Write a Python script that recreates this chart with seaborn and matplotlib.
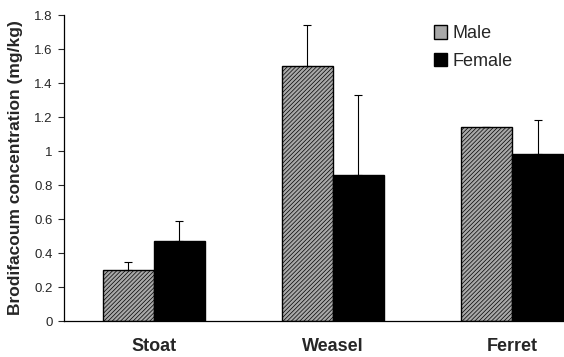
import pandas as pd
import matplotlib
matplotlib.use("Agg")
import matplotlib.pyplot as plt
import seaborn as sns

species = ["Stoat", "Weasel", "Ferret"]
male_mean = [0.30, 1.50, 1.14]
male_err = [0.05, 0.24, 0.0]
female_mean = [0.47, 0.86, 0.98]
female_err = [0.12, 0.47, 0.20]
yticks = [0, 0.2, 0.4, 0.6, 0.8, 1, 1.2, 1.4, 1.6, 1.8]

df = pd.DataFrame({
    "species": species * 2,
    "sex": ["Male"] * 3 + ["Female"] * 3,
    "conc": male_mean + female_mean,
})

sns.set_style("white")
plt.rcParams["font.family"] = ["Liberation Sans", "DejaVu Sans"]
plt.rcParams["hatch.color"] = "#505050"
plt.rcParams["hatch.linewidth"] = 0.5

fig = plt.figure(figsize=(5.64, 3.57), dpi=100)
ax = fig.add_axes([0.1135, 0.1008, 0.8865, 0.857])

sns.barplot(data=df, x="species", y="conc", hue="sex", order=species,
            hue_order=["Male", "Female"], palette=["#a8a8a8", "#000000"],
            errorbar=None, width=0.57, edgecolor="black", linewidth=1,
            saturation=1, ax=ax)

for bar in ax.containers[0]:
    bar.set_hatch("////////")

errs = [male_err, female_err]
for cont, err in zip(ax.containers, errs):
    xs = [b.get_x() + b.get_width() / 2 for b in cont]
    hs = [b.get_height() for b in cont]
    ax.errorbar(xs, hs, yerr=[[0] * len(err), err], fmt="none",
                ecolor="black", elinewidth=0.8, capsize=3, capthick=0.8)

ax.set_xlim(-0.5, 2.29)
ax.set_ylim(0, 1.8)
ax.set_yticks(yticks)
ax.set_yticklabels([f"{t:g}" for t in yticks], fontsize=9.5)
ax.tick_params(axis="y", direction="out", length=4, width=0.8, left=True, pad=4)
ax.tick_params(axis="x", length=0, pad=12)
for lab in ax.get_xticklabels():
    lab.set_fontweight("bold")
    lab.set_fontsize(13)
ax.set_xlabel("")
ax.set_ylabel("Brodifacoum concentration (mg/kg)", fontsize=12.5,
              fontweight="bold", labelpad=8)

sns.despine(ax=ax)
for s in ["left", "bottom"]:
    ax.spines[s].set_color("black")
    ax.spines[s].set_linewidth(0.9)

leg = ax.legend(loc="upper right", bbox_to_anchor=(0.93, 1.02), frameon=False,
                fontsize=13, handlelength=0.75, handleheight=0.75,
                handletextpad=0.3, labelspacing=0.6)

fig.savefig("out.png", dpi=100)
